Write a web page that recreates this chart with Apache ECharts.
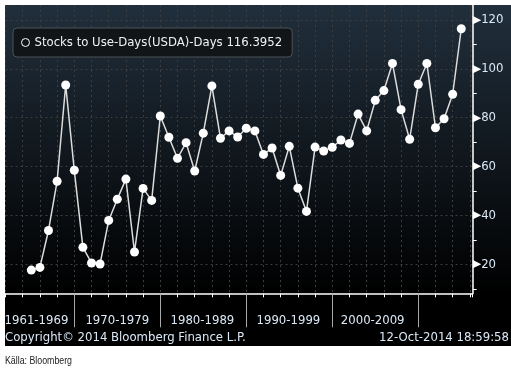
<!DOCTYPE html>
<html>
<head>
<meta charset="utf-8">
<script src="https://cdn.jsdelivr.net/npm/echarts@6/dist/echarts.min.js"></script>
<style>
  html, body { margin: 0; padding: 0; background: #ffffff; }
  #chart { width: 511px; height: 371px; }
</style>
</head>
<body>
<div id="chart"></div>
<script>
// ---- data ----
const seriesName = 'Stocks to Use-Days(USDA)-Days';
const lastValueText = '116.3952';
const years = [1965,1966,1967,1968,1969,1970,1971,1972,1973,1974,1975,1976,1977,1978,1979,
  1980,1981,1982,1983,1984,1985,1986,1987,1988,1989,1990,1991,1992,1993,1994,1995,1996,1997,
  1998,1999,2000,2001,2002,2003,2004,2005,2006,2007,2008,2009,2010,2011,2012,2013,2014,2015];
const values = [17.7,18.8,33.9,54.0,93.4,58.5,27.0,20.6,20.2,38.0,
  46.7,54.9,25.1,51.1,46.2,80.7,72.0,63.4,69.8,58.2,
  73.7,93.0,71.6,74.6,72.1,75.7,74.6,65.0,67.6,56.4,
  68.3,51.2,41.7,68.0,66.4,67.9,70.9,69.5,81.5,74.6,
  87.1,91.1,102.2,83.3,71.2,93.7,102.2,75.9,79.6,89.6,116.3952];
const yMajorTicks = [20,40,60,80,100,120];
const yMinorTicks = [10,30,50,70,90,110];
const decadeBreaks = [1970,1980,1990,2000,2010];
const decadeLabels = ['1961-1969','1970-1979','1980-1989','1990-1999','2000-2009'];
const decadeLabelPos = [1965.6,1975.0,1984.9,1994.9,2004.7];
const copyrightText = 'Copyright\u00A9 2014 Bloomberg Finance L.P.';
const dateText = '12-Oct-2014 18:59:58';
const sourceText = 'K\u00E4lla: Bloomberg';

const FONT = '"DejaVu Sans Condensed", "Liberation Sans", sans-serif';
const LABEL_COLOR = '#dbe9f7';
const X_MIN = 1962, X_MAX = 2016.33, Y_MIN = 8.2, Y_MAX = 126.1;

const chart = echarts.init(document.getElementById('chart'), null, { renderer: 'canvas' });

const labelMap = {};
decadeLabelPos.forEach((p, i) => { labelMap[p] = decadeLabels[i]; });

const option = {
  backgroundColor: '#ffffff',
  animation: false,
  graphic: [
    {
      type: 'rect', z: -10, silent: true,
      shape: { x: 5, y: 5, width: 506, height: 341 },
      style: {
        fill: new echarts.graphic.LinearGradient(0, 0, 0, 1, [
          { offset: 0, color: '#212f3c' },
          { offset: 0.85, color: '#000000' },
          { offset: 1, color: '#000000' }
        ])
      }
    },
    {
      type: 'text', left: 5, top: 331, silent: true,
      style: { text: copyrightText, fill: LABEL_COLOR, font: '13px ' + FONT }
    },
    {
      type: 'text', right: 2, top: 331, silent: true,
      style: { text: dateText, fill: LABEL_COLOR, font: '13px ' + FONT }
    },
    {
      type: 'text', x: 5, y: 355, scaleX: 0.8, silent: true,
      style: { text: sourceText, fill: '#222222', font: '11px "Liberation Sans Narrow", "Liberation Sans", sans-serif' }
    }
  ],
  legend: {
    left: 13, top: 28,
    orient: 'horizontal',
    padding: [8, 10, 8, 8],
    backgroundColor: '#111518',
    borderColor: '#4d5257',
    borderWidth: 1,
    borderRadius: 4,
    itemWidth: 8, itemHeight: 8, itemGap: 5,
    data: [{
      name: seriesName,
      icon: 'circle',
      itemStyle: { color: 'transparent', borderColor: '#ffffff', borderWidth: 1 }
    }],
    formatter: (n) => n + ' ' + lastValueText,
    textStyle: { color: '#f2f2f2', fontSize: 13, fontFamily: FONT, padding: [0, 0, 0, 0] }
  },
  grid: { left: 5.5, right: 38.3, top: 5, bottom: 77.7, containLabel: false },
  xAxis: [
    {
      type: 'value', min: X_MIN, max: X_MAX, interval: 2, position: 'bottom',
      axisLine: { show: true, onZero: false, lineStyle: { color: '#ffffff', width: 1.5 } },
      axisTick: { show: true, length: 4, inside: false, lineStyle: { color: '#ffffff', width: 1 } },
      axisLabel: { show: false },
      splitLine: { show: true, lineStyle: { color: '#3d3d3d', type: [2, 3], width: 1 } }
    },
    {
      type: 'value', min: X_MIN, max: X_MAX, position: 'bottom', gridIndex: 0,
      axisLine: { show: false, onZero: false },
      axisTick: { show: true, length: 34, customValues: decadeBreaks, lineStyle: { color: '#a8a8a8', width: 1 } },
      axisLabel: {
        show: true, customValues: decadeLabelPos, margin: 21,
        color: LABEL_COLOR, fontSize: 13, fontFamily: FONT,
        formatter: (v) => labelMap[v] || ''
      },
      splitLine: { show: false }
    }
  ],
  yAxis: [
    {
      type: 'value', min: Y_MIN, max: Y_MAX, position: 'right',
      axisLine: { show: true, lineStyle: { color: '#ffffff', width: 1.5 } },
      axisTick: { show: false, customValues: yMajorTicks },
      axisLabel: {
        show: true, customValues: yMajorTicks, margin: 0,
        formatter: (v) => '{t|\u25B6}{v|' + v + '}',
        rich: {
          t: { color: '#ffffff', fontSize: 11, fontFamily: 'DejaVu Sans', padding: [0, 0, 0, 0] },
          v: { color: LABEL_COLOR, fontSize: 13, fontFamily: FONT }
        }
      },
      splitLine: { show: true, lineStyle: { color: '#3d3d3d', type: [2, 3], width: 1 } }
    },
    {
      type: 'value', min: Y_MIN, max: Y_MAX, position: 'right', gridIndex: 0,
      axisLine: { show: false },
      axisTick: { show: true, length: 4, customValues: yMinorTicks, lineStyle: { color: '#ffffff', width: 1 } },
      axisLabel: { show: false },
      splitLine: { show: false }
    }
  ],
  series: [{
    name: seriesName,
    type: 'line',
    xAxisIndex: 0, yAxisIndex: 0,
    data: years.map((y, i) => [y, values[i]]),
    symbol: 'circle',
    symbolSize: 9,
    showSymbol: true,
    lineStyle: { color: '#dcdcdc', width: 1.5 },
    itemStyle: { color: '#ffffff', borderWidth: 0 },
    emphasis: { disabled: true }
  }]
};
chart.setOption(option);
</script>
</body>
</html>
